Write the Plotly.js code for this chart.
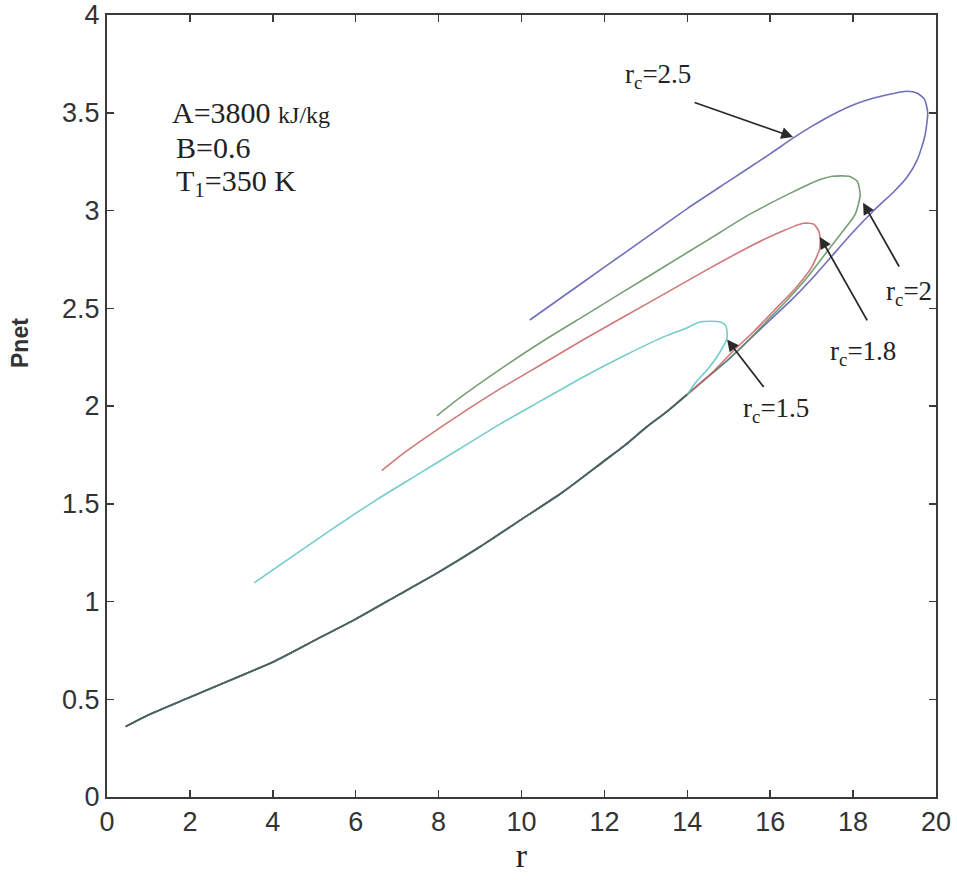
<!DOCTYPE html>
<html>
<head>
<meta charset="utf-8">
<script src="https://cdn.plot.ly/plotly-3.0.1.min.js"></script>
<style>
  html, body { margin: 0; padding: 0; background: #ffffff; }
  #chart { width: 957px; height: 893px; }
</style>
</head>
<body>
<div id="chart"></div>
<script>
// ---- Data ----
// Shared lower branch (descending r)
const lowerR = [18.5, 18, 17.5, 17, 16.5, 16, 15.5, 15, 14.5, 14, 13.5, 13, 12.5, 12, 11, 10, 9, 8, 7, 6, 5, 4, 3, 2, 1, 0.45];
const lowerP = [3.00, 2.89, 2.77, 2.65, 2.54, 2.44, 2.34, 2.24, 2.15, 2.06, 1.97, 1.89, 1.80, 1.72, 1.56, 1.42, 1.28, 1.15, 1.03, 0.91, 0.80, 0.69, 0.60, 0.51, 0.42, 0.36];

// rc = 2.5 (blue): upper branch and nose
const blueR = [10.2, 11, 12, 13, 14, 15, 16, 16.55, 17, 17.5, 18, 18.5, 19, 19.3, 19.55, 19.72, 19.8, 19.73, 19.55, 19.3, 19.0];
const blueP = [2.44, 2.56, 2.71, 2.86, 3.01, 3.15, 3.29, 3.37, 3.43, 3.49, 3.54, 3.575, 3.60, 3.61, 3.60, 3.57, 3.50, 3.38, 3.26, 3.17, 3.10];

// rc = 2 (green)
const greenR = [7.96, 8.5, 9.5, 10.5, 11.5, 12.5, 13.5, 14.5, 15.5, 16.5, 17.1, 17.5, 17.9, 18.1, 18.17, 18.05, 17.7, 17.3, 16.9, 16.4, 15.9, 15.4, 14.9];
const greenP = [1.95, 2.04, 2.19, 2.33, 2.46, 2.59, 2.72, 2.85, 2.98, 3.09, 3.15, 3.175, 3.175, 3.15, 3.08, 2.98, 2.88, 2.77, 2.66, 2.54, 2.43, 2.32, 2.22];

// rc = 1.8 (red)
const redR = [6.63, 7.2, 7.87, 8.5, 9.5, 10.5, 11.5, 12.5, 13.5, 14.5, 15.5, 16.3, 16.8, 17.05, 17.18, 17.2, 17.0, 16.6, 16.1, 15.6, 15.1, 14.6];
const redP = [1.67, 1.765, 1.865, 1.955, 2.09, 2.215, 2.34, 2.46, 2.58, 2.70, 2.815, 2.895, 2.935, 2.93, 2.89, 2.81, 2.71, 2.60, 2.49, 2.38, 2.28, 2.17];

// rc = 1.5 (cyan)
const cyanR = [3.55, 4.5, 5.5, 6.5, 7.5, 8.5, 9.5, 10.5, 11.5, 12.5, 13.5, 14.0, 14.3, 14.8, 14.93, 14.96, 14.8, 14.5, 14.2];
const cyanP = [1.095, 1.235, 1.38, 1.52, 1.65, 1.78, 1.91, 2.03, 2.15, 2.26, 2.36, 2.40, 2.43, 2.43, 2.41, 2.35, 2.28, 2.19, 2.12];

const seriesNames = ['rc=2.5', 'rc=2', 'rc=1.8', 'rc=1.5'];
const seriesColors = ['#5656b0', '#5e8e5e', '#c86060', '#5cc4c4'];
const sharedColor = '#3e4c4c';

// Text labels
const labelTexts = ['r<sub>c</sub>=2.5', 'r<sub>c</sub>=2', 'r<sub>c</sub>=1.8', 'r<sub>c</sub>=1.5'];
const labelR = [13.3, 19.35, 18.24, 16.14];
const labelP = [3.69, 2.58, 2.27, 1.98];
const arrowTipR = [16.55, 18.24, 17.2, 14.96];
const arrowTipP = [3.376, 3.04, 2.865, 2.34];
const arrowTailR = [14.14, 19.13, 18.36, 15.87];
const arrowTailP = [3.555, 2.706, 2.43, 2.09];

const paramTexts = ['A=3800 <span style="font-size:24px">kJ/kg</span>', 'B=0.6', 'T<sub>1</sub>=350 K'];
const paramR = [1.52, 1.62, 1.62];
const paramP = [3.50, 3.32, 3.14];

const xTicks = [0, 2, 4, 6, 8, 10, 12, 14, 16, 18, 20];
const yTicks = [0, 0.5, 1, 1.5, 2, 2.5, 3, 3.5, 4];

// ---- Build full loops: upper branch + nose + shared lower branch ----
function withLower(rs, ps) {
  const last = rs[rs.length - 1];
  const x = rs.slice(), y = ps.slice();
  for (let i = 0; i < lowerR.length; i++) {
    if (lowerR[i] < last) { x.push(lowerR[i]); y.push(lowerP[i]); }
  }
  return {x, y};
}

const curves = [withLower(blueR, blueP), withLower(greenR, greenP), withLower(redR, redP), withLower(cyanR, cyanP)];

const traces = curves.map((c, i) => ({
  x: c.x, y: c.y, type: 'scatter', mode: 'lines',
  name: seriesNames[i],
  line: {color: seriesColors[i], width: 1.6, shape: 'spline', smoothing: 0.6},
  opacity: 0.85,
  hoverinfo: 'skip'
}));

// where all four curves overlap, the reference shows a dark, mixed line
const mergeR = cyanR[cyanR.length - 1];
const shared = {x: [], y: []};
for (let i = 0; i < lowerR.length; i++) {
  if (lowerR[i] < mergeR) { shared.x.push(lowerR[i]); shared.y.push(lowerP[i]); }
}
traces.push({
  x: shared.x, y: shared.y, type: 'scatter', mode: 'lines', name: 'shared',
  line: {color: sharedColor, width: 1.7, shape: 'spline', smoothing: 0.6},
  opacity: 0.8, hoverinfo: 'skip'
});

const annotations = [];
for (let i = 0; i < labelTexts.length; i++) {
  annotations.push({
    x: labelR[i], y: labelP[i], xref: 'x', yref: 'y',
    text: labelTexts[i], showarrow: false,
    font: {family: 'Liberation Serif, Times New Roman, serif', size: 27, color: '#222'},
    xanchor: 'center', yanchor: 'middle'
  });
  annotations.push({
    x: arrowTipR[i], y: arrowTipP[i], xref: 'x', yref: 'y',
    ax: arrowTailR[i], ay: arrowTailP[i], axref: 'x', ayref: 'y',
    text: '', showarrow: true, arrowhead: 2, arrowsize: 1.3, arrowwidth: 1.8,
    arrowcolor: '#2a2a2a', standoff: 0, startstandoff: 0
  });
}
for (let i = 0; i < paramTexts.length; i++) {
  annotations.push({
    x: paramR[i], y: paramP[i], xref: 'x', yref: 'y',
    text: paramTexts[i], showarrow: false,
    font: {family: 'Liberation Serif, Times New Roman, serif', size: 30, color: '#222'},
    xanchor: 'left', yanchor: 'middle'
  });
}
annotations.push({
  x: (20 - 107) / (936 - 107), y: (797 - 343) / (797 - 15), xref: 'paper', yref: 'paper',
  text: '<b>Pnet</b>', showarrow: false, textangle: -90,
  font: {family: 'Liberation Sans, Arial, sans-serif', size: 23, color: '#333'},
  xanchor: 'center', yanchor: 'middle'
});

const axisCommon = {
  showgrid: false, zeroline: false, showline: true, linecolor: '#3a3a3a', linewidth: 2,
  mirror: 'ticks', ticks: 'inside', ticklen: 7, tickwidth: 1.5, tickcolor: '#3a3a3a',
  tickfont: {family: 'Liberation Sans, Arial, sans-serif', size: 27, color: '#333'}
};

const layout = {
  width: 957, height: 893,
  margin: {l: 107, r: 21, t: 15, b: 96},
  paper_bgcolor: '#ffffff', plot_bgcolor: '#ffffff',
  showlegend: false,
  xaxis: Object.assign({}, axisCommon, {
    range: [0, 20], tickvals: xTicks, ticktext: xTicks.map(String),
    title: {text: 'r', font: {family: 'Liberation Serif, Times New Roman, serif', size: 34, color: '#222'}, standoff: 0}
  }),
  yaxis: Object.assign({}, axisCommon, {
    range: [0, 4], tickvals: yTicks, ticktext: yTicks.map(String)
  }),
  annotations: annotations
};

Plotly.newPlot('chart', traces, layout, {displayModeBar: false, staticPlot: true});
</script>
</body>
</html>
